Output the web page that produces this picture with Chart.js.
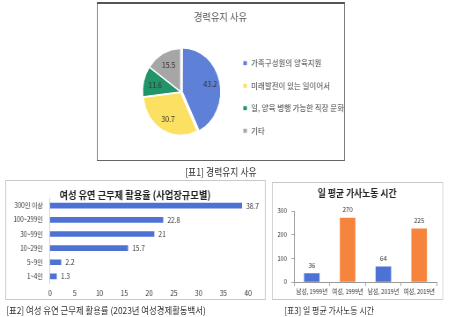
<!DOCTYPE html>
<html><head><meta charset="utf-8">
<script src="https://cdn.jsdelivr.net/npm/chart.js@4"></script>
<style>
html,body{margin:0;padding:0;background:#fff;width:450px;height:317px;overflow:hidden;font-family:"Noto Sans CJK KR","Noto Sans",sans-serif;}
#wrap{position:absolute;left:0;top:0;width:512px;height:317px;transform:scaleX(0.88);transform-origin:0 0;}
canvas{position:absolute;display:block;}
.frame{position:absolute;box-sizing:border-box;pointer-events:none;}
.cap{position:absolute;font-size:9px;color:#333;white-space:nowrap;line-height:1;}
</style></head><body>
<div id="wrap">
<canvas id="c1" width="281" height="157" style="left:110px;top:3px;width:281px;height:157px;"></canvas>
<div class="frame" style="left:110px;top:2px;width:282px;height:159px;border:1px solid #666;border-top:2px solid #555;"></div>
<div class="cap" style="left:191px;top:167px;width:120px;text-align:center;font-size:10px;">[표1] 경력유지 사유</div>

<canvas id="c2" width="295" height="119" style="left:6px;top:180px;width:295px;height:119px;"></canvas>
<div class="frame" style="left:6px;top:180px;width:296px;height:120px;border:1px solid #c8c8c8;"></div>
<div class="cap" style="left:7px;top:306px;font-size:9.5px;">[표2] 여성 유연 근무제 활용률 (2023년 여성경제활동백서)</div>

<canvas id="c3" width="194" height="117" style="left:309px;top:182px;width:194px;height:117px;"></canvas>
<div class="frame" style="left:309px;top:182px;width:195px;height:118px;border:1px solid #c8c8c8;"></div>
<div class="cap" style="left:323px;top:306px;">[표3] 일 평균 가사노동 시간</div>
</div>

<script>
// ---- data ----
const pieLabels = ['가족구성원의 양육지원', '미래발전이 있는 일이어서', '일, 양육 병행 가능한 직장 문화', '기타'];
const pieValues = [43.2, 30.7, 11.6, 15.5];

const sizeLabels = ['300인 이상', '100~299인', '30~99인', '10~29인', '5~9인', '1~4인'];
const sizeValues = [38.7, 22.8, 21, 15.7, 2.2, 1.3];

const houseLabels = ['남성, 1999년', '여성, 1999년', '남성, 2019년', '여성, 2019년'];
const houseValues = [36, 270, 64, 225];

const FONT = '"Noto Sans CJK KR", "Noto Sans", sans-serif';
Chart.defaults.font.family = FONT;
Chart.defaults.animation = false;

const valueLabels = {
  id: 'valueLabels',
  afterDatasetsDraw(chart, args, opts) {
    const ctx = chart.ctx;
    const meta = chart.getDatasetMeta(0);
    const ds = chart.data.datasets[0];
    ctx.save();
    ctx.font = opts.font;
    ctx.fillStyle = opts.color;
    meta.data.forEach((el, i) => {
      const txt = String(ds.data[i]);
      if (opts.mode === 'arc') {
        const a = (el.startAngle + el.endAngle) / 2;
        const r = el.outerRadius * 0.64 + (el.options.offset || 0);
        ctx.textAlign = 'center'; ctx.textBaseline = 'middle';
        ctx.fillText(txt, el.x + Math.cos(a) * r, el.y + Math.sin(a) * r);
      } else if (opts.mode === 'right') {
        ctx.textAlign = 'left'; ctx.textBaseline = 'middle';
        ctx.fillText(txt, el.x + 5, el.y);
      } else {
        ctx.textAlign = 'center'; ctx.textBaseline = 'bottom';
        ctx.fillText(txt, el.x, el.y - 5);
      }
    });
    ctx.restore();
  }
};

// moves the pie's drawing area right while the title stays centred on the whole box
const pieArea = {
  id: 'pieArea',
  afterLayout(chart, args, opts) {
    const a = chart.chartArea;
    a.left += opts.left;
    a.width = a.right - a.left;
  }
};

// ---- chart 1: pie ----
new Chart(document.getElementById('c1'), {
  type: 'pie',
  data: {
    labels: pieLabels,
    datasets: [{
      data: pieValues,
      backgroundColor: ['#5F80D7', '#FCE062', '#22946A', '#A6A6A6'],
      borderColor: '#ffffff',
      borderWidth: 1,
      offset: [7, 3, 3, 3],
      radius: 42.5
    }]
  },
  options: {
    responsive: false,
    devicePixelRatio: 1,
    layout: { padding: { left: 0, right: 0, top: 0, bottom: 9 } },
    plugins: {
      title: { display: true, text: '경력유지 사유', color: '#555', font: { size: 10.5, weight: 'normal' }, padding: { top: 7.5, bottom: 9.9 } },
      legend: {
        position: 'right', align: 'center', fullSize: false, maxWidth: 129,
        title: { display: true, text: '', padding: 0, font: { size: 8.3 } },
        labels: { boxWidth: 5, boxHeight: 5, padding: 14, color: '#444', font: { size: 8.5 } }
      },
      tooltip: { enabled: false },
      pieArea: { left: 39 },
      valueLabels: { mode: 'arc', font: '8px ' + FONT, color: '#333' }
    }
  },
  plugins: [pieArea, valueLabels]
});

// ---- chart 2: horizontal bar ----
new Chart(document.getElementById('c2'), {
  type: 'bar',
  data: {
    labels: sizeLabels,
    datasets: [{ data: sizeValues, backgroundColor: '#4E72D4', barThickness: 5 }]
  },
  options: {
    indexAxis: 'y',
    responsive: false,
    devicePixelRatio: 1,
    layout: { padding: { left: 6, right: 6, top: 0, bottom: 1 } },
    scales: {
      x: {
        min: 0, max: 40,
        ticks: { stepSize: 5, color: '#333', font: { size: 7.5 }, padding: 5 },
        grid: { display: false, drawTicks: false },
        border: { display: false },
        afterFit(s) { s.height = 14.5; }
      },
      y: {
        ticks: { color: '#333', font: { size: 7 }, padding: 8 },
        grid: { display: false, drawTicks: false },
        border: { display: true, color: '#d0d0d0' },
        afterFit(s) { s.width = 44.8; }
      },
      yRight: {
        type: 'category',
        position: 'right',
        ticks: { display: false },
        grid: { display: false, drawTicks: false },
        border: { display: false },
        afterFit(s) { s.width = 13; }
      }
    },
    plugins: {
      title: { display: true, text: '여성 유연 근무제 활용율 (사업장규모별)', color: '#222', font: { size: 10.5, weight: 'bold' }, padding: { top: 8.5, bottom: -2.5 } },
      legend: { display: false },
      tooltip: { enabled: false },
      valueLabels: { mode: 'right', font: '7.5px ' + FONT, color: '#333' }
    }
  },
  plugins: [valueLabels]
});

// ---- chart 3: vertical bar ----
new Chart(document.getElementById('c3'), {
  type: 'bar',
  data: {
    labels: houseLabels,
    datasets: [{ data: houseValues, backgroundColor: ['#4E72D4', '#F7843C', '#4E72D4', '#F7843C'], barThickness: 17 }]
  },
  options: {
    responsive: false,
    devicePixelRatio: 1,
    layout: { padding: { left: 6, right: 6.4, top: 0, bottom: 0 } },
    scales: {
      x: {
        ticks: { color: '#333', font: { size: 6.5 }, padding: 2, maxRotation: 0, autoSkip: false },
        grid: { display: true, drawOnChartArea: false, drawTicks: true, tickLength: 4, offset: true, color: '#aaa' },
        border: { display: true, color: '#999' },
        afterFit(s) { s.height = 17; }
      },
      y: {
        min: 0, max: 300,
        ticks: { stepSize: 100, color: '#333', font: { size: 6.5 }, padding: 5 },
        grid: { display: true, drawOnChartArea: false, drawTicks: true, tickLength: 3, color: '#aaa' },
        border: { display: true, color: '#999' },
        afterFit(s) { s.width = 19; }
      }
    },
    plugins: {
      title: { display: true, text: '일 평균 가사노동 시간', color: '#222', font: { size: 10, weight: 'bold' }, padding: { top: 5, bottom: 12 } },
      legend: { display: false },
      tooltip: { enabled: false },
      valueLabels: { mode: 'top', font: '7px ' + FONT, color: '#333' }
    }
  },
  plugins: [valueLabels]
});
</script>
</body></html>
